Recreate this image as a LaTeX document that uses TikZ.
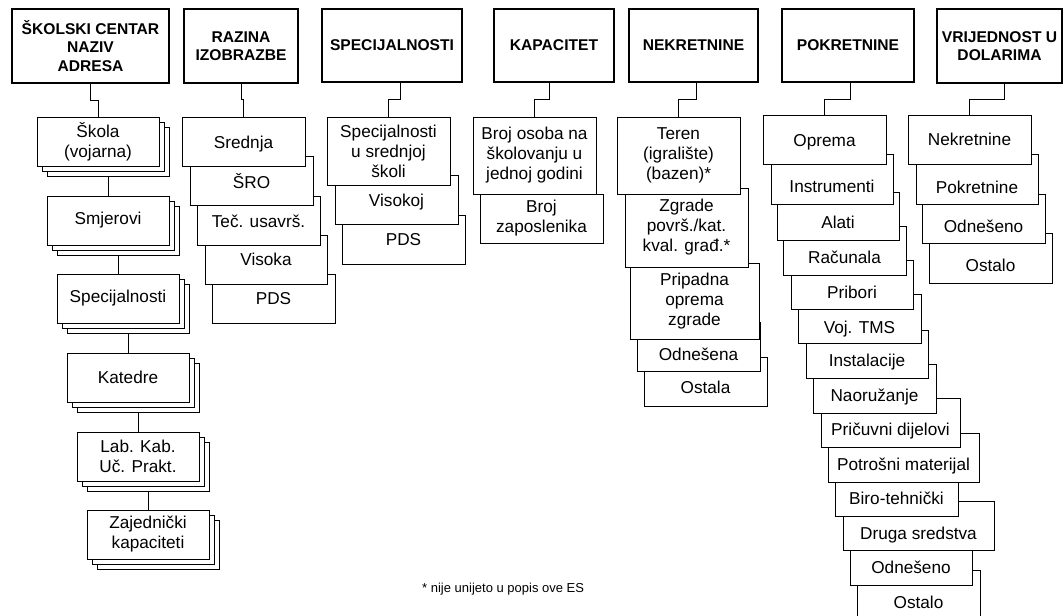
\documentclass[tikz,border=0pt]{standalone}
\usepackage{fontspec}
\setmainfont{Liberation Sans}
\newcommand\bodyfont{\fontsize{17.2}{20}\selectfont}
\newcommand\hdrfont{\bfseries\fontsize{15.6}{18.3}\selectfont}
\tikzset{
  box/.style={draw=black, line width=0.9pt, fill=white, rectangle, inner sep=0pt, outer sep=0pt},
  hdr/.style={draw=black, line width=2.2pt, fill=white, rectangle, inner sep=0pt, outer sep=0pt, align=center, font=\hdrfont},
  lbl1/.style={inner sep=0pt, outer sep=0pt, font=\bodyfont, text height=12.3pt, text depth=0pt},
  conn/.style={draw=black, line width=0.9pt},
  fnote/.style={inner sep=0pt, font=\fontsize{13}{15}\selectfont, anchor=west},
}
% header: name, x1, y1, x2, y2, text
\newcommand\mkhdr[6]{\node[hdr, minimum width={(#4-#2)*1pt}, minimum height={(#5-#3)*1pt}] (#1) at ({(#2+#4)/2},{(#3+#5)/2}) {#6};}
% box with centred (multi-line) text
\newcommand\mkbox[6]{\node[box, align=center, font=\bodyfont, minimum width={(#4-#2)*1pt}, minimum height={(#5-#3)*1pt}] (#1) at ({(#2+#4)/2},{(#3+#5)/2}) {#6};}
% box with single-line text at given y
\newcommand\mkboxt[7]{\node[box, minimum width={(#4-#2)*1pt}, minimum height={(#5-#3)*1pt}] (#1) at ({(#2+#4)/2},{(#3+#5)/2}) {};
  \node[lbl1] (#1t) at ({(#2+#4)/2},#6) {#7};}
% stacked box with two copies behind
\newcommand\mkstack[6]{%
  \node[box, minimum width={(#4-#2)*1pt}, minimum height={(#5-#3)*1pt}] (#1b) at ({(#2+#4)/2+10},{(#3+#5)/2+10}) {};
  \node[box, minimum width={(#4-#2)*1pt}, minimum height={(#5-#3)*1pt}] (#1a) at ({(#2+#4)/2+5},{(#3+#5)/2+5}) {};
  \node[box, align=center, font=\bodyfont, minimum width={(#4-#2)*1pt}, minimum height={(#5-#3)*1pt}] (#1) at ({(#2+#4)/2},{(#3+#5)/2}) {#6};}
\begin{document}
\begin{tikzpicture}[x=1pt,y=-1pt]
\fill[white] (0,0) rectangle (1064,615);
\useasboundingbox (0,0) rectangle (1064,615);

% headers
\mkhdr{H1}{12}{9}{169}{83}{ŠKOLSKI CENTAR\\NAZIV\\ADRESA}
\mkhdr{H2}{184}{9}{298}{83}{RAZINA\\IZOBRAZBE}
\mkhdr{H3}{322}{9}{462}{82}{SPECIJALNOSTI}
\mkhdr{H4}{494}{9}{614}{82}{KAPACITET}
\mkhdr{H5}{629}{9}{758}{82}{NEKRETNINE}
\mkhdr{H6}{782}{9}{914}{82}{POKRETNINE}
\mkhdr{H7}{937}{9}{1062}{83}{VRIJEDNOST U\\DOLARIMA}

% column 1
\mkstack{A1}{37}{117}{159}{166}{Škola\\(vojarna)}
\mkstack{A2}{47}{196}{169}{245}{Smjerovi}
\mkstack{A3}{57}{274}{179}{323}{Specijalnosti}
\mkstack{A4}{67}{353}{189}{402}{Katedre}
\mkstack{A5}{77}{432}{199}{481}{Lab. Kab.\\Uč. Prakt.}
\mkstack{A6}{87}{510}{209}{559}{Zajednički\\kapaciteti}

% column 2
\mkboxt{B5}{212}{274}{335}{323}{298}{PDS}
\mkboxt{B4}{205}{235}{327}{284}{259}{Visoka}
\mkboxt{B3}{197}{196}{320}{245}{221}{Teč. usavrš.}
\mkboxt{B2}{190}{156}{313}{205}{182}{ŠRO}
\mkboxt{B1}{182}{117}{305}{166}{142}{Srednja}

% column 3
\mkboxt{C3}{342}{215}{465}{264}{239}{PDS}
\mkboxt{C2}{335}{175}{458}{224}{200}{Visokoj}
\mkbox{C1}{327}{117}{450}{185}{Specijalnosti\\u srednjoj\\školi}

% column 4
\mkbox{D2}{480}{194}{603}{243}{Broj\\zaposlenika}
\mkbox{D1}{473}{117}{596}{194}{Broj osoba na\\školovanju u\\jednoj godini}

% column 5
\mkboxt{E5}{644}{357}{767}{406}{387}{Ostala}
\mkboxt{E4}{637}{322}{760}{371}{354}{Odnešena}
\mkbox{E3}{630}{263}{759}{339}{Pripadna\\oprema\\zgrade}
\mkbox{E2}{625}{188}{748}{267}{Zgrade\\površ./kat.\\kval. građ.*}
\mkbox{E1}{617}{117}{740}{194}{Teren\\(igralište)\\(bazen)*}

% column 6
\mkboxt{F14}{857}{570}{980}{619}{602}{Ostalo}
\mkboxt{F13}{850}{536}{972}{585}{567}{Odnešeno}
\mkboxt{F12}{843}{501}{994}{550}{533}{Druga sredstva}
\mkboxt{F11}{835}{467}{958}{516}{498}{Biro-tehnički}
\mkboxt{F10}{828}{433}{979}{482}{464}{Potrošni materijal}
\mkboxt{F9}{821}{398}{960}{447}{429}{Pričuvni dijelovi}
\mkboxt{F8}{813}{364}{936}{413}{395}{Naoružanje}
\mkboxt{F7}{806}{330}{928}{378}{360}{Instalacije}
\mkboxt{F6}{798}{294}{921}{343}{327}{Voj. TMS}
\mkboxt{F5}{791}{260}{913}{309}{292}{Pribori}
\mkboxt{F4}{783}{226}{906}{275}{257}{Računala}
\mkboxt{F3}{777}{192}{899}{240}{222}{Alati}
\mkboxt{F2}{771}{154}{893}{204}{186}{Instrumenti}
\mkboxt{F1}{763}{115}{886}{164}{140}{Oprema}

% column 7
\mkboxt{G4}{929}{233}{1052}{283}{265}{Ostalo}
\mkboxt{G3}{922}{194}{1045}{243}{226}{Odnešeno}
\mkboxt{G2}{916}{154}{1038}{204}{187}{Pokretnine}
\mkboxt{G1}{908}{115}{1031}{164}{139}{Nekretnine}

% connectors
\draw[conn] (H1.south) -- ++(0,17) -| (A1.north);
\draw[conn] (A1b.south) -- (A2.north);
\draw[conn] (A2b.south) -- (A3.north);
\draw[conn] (A3b.south) -- (A4.north);
\draw[conn] (A4b.south) -- (A5.north);
\draw[conn] (A5b.south) -- (A6.north);
\draw[conn] (H2.south) -- ++(0,16) -| (B1.north);
\draw[conn] ([xshift=8pt]H3.south) -- ++(0,17) -| (C1.north);
\draw[conn] ([xshift=-5pt]H4.south) -- ++(0,17) -| (D1.north);
\draw[conn] ([xshift=2.5pt]H5.south) -- ++(0,17) -| (E1.north);
\draw[conn] ([xshift=2pt]H6.south) -- ++(0,17) -| (F1.north);
\draw[conn] ([xshift=5pt]H7.south) -- ++(0,16) -| (G1.north);

% footnote
\node[fnote] (fn) at (422,589) {* nije unijeto u popis ove ES};
\end{tikzpicture}
\end{document}
